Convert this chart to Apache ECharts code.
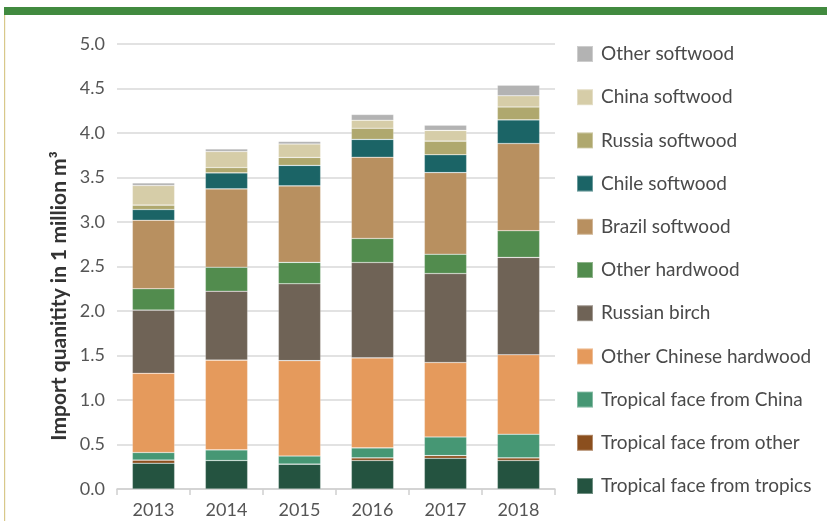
<!DOCTYPE html>
<html><head><meta charset="utf-8">
<script src="https://cdn.jsdelivr.net/npm/echarts@6/dist/echarts.min.js"></script>
<style>html,body{margin:0;padding:0;background:#fff}#c{width:827px;height:521px}</style>
</head><body><div id="c"></div>
<script>
const years = ['2013','2014','2015','2016','2017','2018'];
const tropicalTropics = [0.29, 0.32, 0.28, 0.32, 0.345, 0.32];
const tropicalOther   = [0.035, 0.0, 0.0, 0.03, 0.03, 0.03];
const tropicalChina   = [0.085, 0.12, 0.09, 0.112, 0.21, 0.266];
const otherChinese    = [0.89, 1.008, 1.072, 1.011, 0.836, 0.892];
const russianBirch    = [0.71, 0.774, 0.864, 1.072, 1.0, 1.094];
const otherHardwood   = [0.24, 0.27, 0.24, 0.27, 0.217, 0.30];
const brazilSoft      = [0.77, 0.88, 0.86, 0.913, 0.917, 0.98];
const chileSoft       = [0.12, 0.18, 0.23, 0.20, 0.20, 0.266];
const russiaSoft      = [0.05, 0.06, 0.09, 0.126, 0.154, 0.144];
const chinaSoft       = [0.22, 0.18, 0.15, 0.09, 0.12, 0.126];
const otherSoft       = [0.03, 0.03, 0.03, 0.064, 0.06, 0.12];
const yTitle = 'Import quanitity in 1 million m³';

const seriesDefs = [
  ['Tropical face from tropics', tropicalTropics, '#245340'],
  ['Tropical face from other', tropicalOther, '#8b4f1e'],
  ['Tropical face from China', tropicalChina, '#469774'],
  ['Other Chinese hardwood', otherChinese, '#e59a5c'],
  ['Russian birch', russianBirch, '#6f6356'],
  ['Other hardwood', otherHardwood, '#528c4e'],
  ['Brazil softwood', brazilSoft, '#b89060'],
  ['Chile softwood', chileSoft, '#1b6466'],
  ['Russia softwood', russiaSoft, '#afa86e'],
  ['China softwood', chinaSoft, '#d6cda8'],
  ['Other softwood', otherSoft, '#b3b3b3']
];
const FONT = 'Lato';
const chart = echarts.init(document.getElementById('c'));
chart.setOption({
  animation: false,
  textStyle: {fontFamily: FONT},
  graphic: [
    {type:'rect', shape:{x:4, y:7, width:823, height:8}, style:{fill:'#418a3f'}},
    {type:'rect', shape:{x:4, y:15, width:1.2, height:506}, style:{fill:'#d8c88a'}},
    {type:'text', x:59, y:296, rotation: Math.PI/2,
     style:{text: yTitle, fontFamily: FONT, fontSize: 21, fontWeight: 'bold', fill: '#333', align:'center', verticalAlign:'middle'}}
  ],
  legend: {
    data: seriesDefs.map(s => s[0]).reverse(),
    orient: 'vertical',
    left: 576, top: 44, padding: 0,
    itemWidth: 16, itemHeight: 16, itemGap: 23.2,
    icon: 'rect',
    textStyle: {fontFamily: FONT, fontSize: 19, lineHeight: 20, color: '#4a4a4a', padding:[0,0,0,3]}
  },
  grid: {left: 117, right: 272, top: 44, bottom: 32},
  xAxis: {
    type: 'category', data: years,
    axisLine: {lineStyle: {color: '#cfcfcf', width: 1.5}},
    axisTick: {show: true, length: 6, lineStyle: {color: '#cfcfcf', width: 1.5}},
    axisLabel: {fontFamily: FONT, fontSize: 18, color: '#555', margin: 12}
  },
  yAxis: {
    type: 'value', min: 0, max: 5, interval: 0.5,
    axisLine: {show: false}, axisTick: {show: false},
    axisLabel: {fontFamily: FONT, fontSize: 18, color: '#555', margin: 12, formatter: v => v.toFixed(1)},
    splitLine: {lineStyle: {color: '#d9d9d9', width: 1.5}}
  },
  series: seriesDefs.map(s => ({
    name: s[0], type: 'bar', stack: 'total', data: s[1],
    barWidth: '58%',
    itemStyle: {color: s[2], borderColor: 'rgba(255,255,255,0.35)', borderWidth: 0.6}
  }))
});
</script></body></html>
